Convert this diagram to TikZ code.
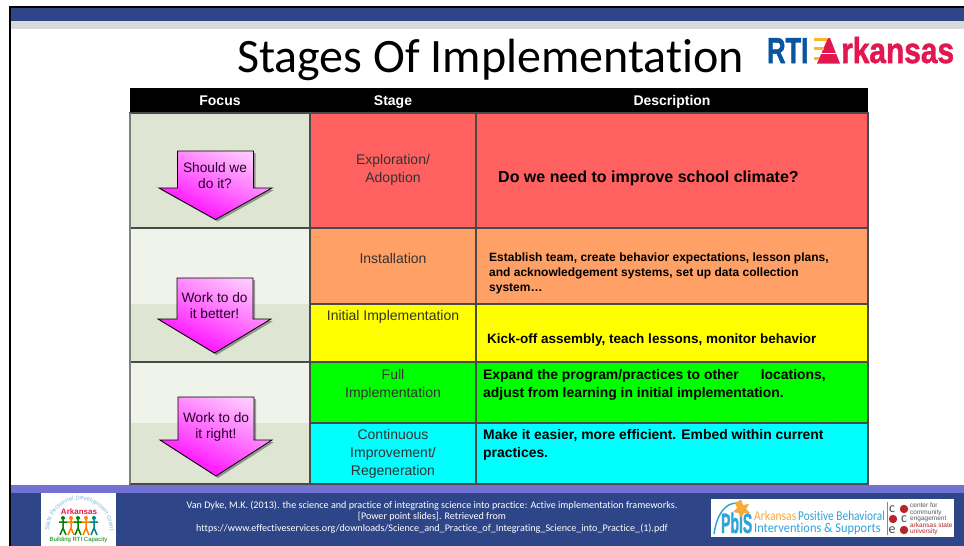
\documentclass[tikz,border=0pt]{standalone}
\usepackage{fontspec}
\usetikzlibrary{shadows,calc,decorations.text}
\setmainfont{Liberation Sans}
\newfontfamily\calib[Ligatures=NoCommon]{Carlito}
\newfontfamily\heavy[BoldFeatures={FakeBold=1.5}]{Liberation Sans}
\definecolor{navy}{HTML}{2E4588}
\definecolor{bandgray}{HTML}{D9D9D9}
\definecolor{purp}{HTML}{7272D2}
\definecolor{focA}{HTML}{DEE6D3}
\definecolor{focB}{HTML}{F0F3EA}
\definecolor{cellline}{HTML}{4A4A4A}
\definecolor{rtiblue}{HTML}{0A559F}
\definecolor{rtired}{HTML}{E3174F}
\definecolor{rtigold}{HTML}{F7B731}
\definecolor{pbblue}{HTML}{2FA4D8}
\definecolor{pborange}{HTML}{F7A93B}
\definecolor{ceered}{HTML}{B3262A}
\definecolor{cred}{HTML}{FF6060}
\definecolor{corange}{HTML}{FFA066}
\definecolor{cgreen}{HTML}{00FF00}
\definecolor{ccyan}{HTML}{00FFFF}
\definecolor{cyellow}{HTML}{FFFF00}
\definecolor{mag}{HTML}{FF00FF}
\definecolor{grantblue}{HTML}{7FB8DC}
\tikzset{
 x=1pt,y=-1pt,
 cellbox/.style={draw=cellline,line width=1.2pt},
 hdr/.style={text=white,anchor=base,font=\fontsize{14}{16}\selectfont\bfseries},
 stagetxt/.style={text=black!80,font=\fontsize{14}{18}\selectfont,align=center},
 desc/.style={text=black,align=left,anchor=west,inner sep=0pt},
 foottxt/.style={text=white,font=\calib\fontsize{10.1}{11.7}\selectfont,align=center},
 arrowbox/.style={draw=black,line width=0.8pt,
   drop shadow={shadow xshift=2pt,shadow yshift=-2pt,fill=black,opacity=0.35},
   top color=mag!22,bottom color=mag,middle color=mag!60,shading angle=-25},
 arrowtxt/.style={text=black!85!mag,font=\fontsize{13.7}{16}\selectfont,align=center},
 logotxt/.style={anchor=base west,inner sep=0pt},
 pbtxt/.style={logotxt,font=\calib\fontsize{13.5}{15}\selectfont},
 ceetxt/.style={font=\fontsize{6.5}{6.4}\selectfont,align=left,anchor=west,inner sep=0pt},
}
\newcommand{\focusarrow}[7]{% tip y, bodyL, bodyR, top, shoulder, headL, headR
  \path[arrowbox]
   (#2,#4) -- (#3,#4) -- (#3,#5) -- (#7,#5) -- ({(#6+#7)/2},#1) -- (#6,#5) -- (#2,#5) -- cycle;
}
\begin{document}
\begin{tikzpicture}
\useasboundingbox (0,0) rectangle (964,546);
\fill[white] (0,0) rectangle (964,546);
% slide frame and bands
\fill[navy] (10,8) rectangle (964,21);
\fill[bandgray] (10,21) rectangle (964,29);
\fill[purp] (10,485) rectangle (964,493);
\fill[navy] (10,493) rectangle (964,546);
\fill[black] (9,6) rectangle (964,8);
\fill[black] (9,6) rectangle (11,546);
% title
\node[text=black,font=\calib\fontsize{48}{54}\selectfont,anchor=base] (title) at (490.5,72) {Stages Of Implementation};
% RTI logo
\node[logotxt,text=rtiblue,font=\heavy\fontsize{36}{38}\selectfont\bfseries,xscale=0.71] (rti) at (767,63) {RTI};
\fill[rtired] (817,63.5) -- (828,38) -- (830,38) -- (840,63.5) -- cycle;
\fill[white] (820,52.5) rectangle (838,54);
\fill[rtigold] (814,37.5) rectangle (827,40.5);
\fill[rtigold] (814,47) rectangle (824,50);
\fill[rtigold] (814,57) rectangle (819,60);
\node[logotxt,text=rtired,font=\heavy\fontsize{36}{38}\selectfont\bfseries,xscale=0.83] (ark) at (841,63) {rkansas};
% table
\fill[black] (130,88) rectangle (868,113);
\fill[focA] (130,113) rectangle (310,228);
\fill[focB] (130,228) rectangle (310,304);
\fill[focA] (130,304) rectangle (310,362);
\fill[focB] (130,362) rectangle (310,423);
\fill[focA] (130,423) rectangle (310,484);
\draw[cellbox] (130,113) rectangle (310,228);
\draw[cellbox] (130,228) rectangle (310,362);
\draw[cellbox] (130,362) rectangle (310,484);
\draw[gray,line width=1.2pt] (130,113) -- (130,484);
\draw[cellbox,fill=cred] (310,113) rectangle (476,228);
\draw[cellbox,fill=corange] (310,228) rectangle (476,304);
\draw[cellbox,fill=cyellow] (310,304) rectangle (476,362);
\draw[cellbox,fill=cgreen] (310,362) rectangle (476,423);
\draw[cellbox,fill=ccyan] (310,423) rectangle (476,484);
\draw[cellbox,fill=cred] (476,113) rectangle (868,228);
\draw[cellbox,fill=corange] (476,228) rectangle (868,304);
\draw[cellbox,fill=cyellow] (476,304) rectangle (868,362);
\draw[cellbox,fill=cgreen] (476,362) rectangle (868,423);
\draw[cellbox,fill=ccyan] (476,423) rectangle (868,484);
% header labels
\node[hdr] (h1) at (220,105) {Focus};
\node[hdr] (h2) at (393,105) {Stage};
\node[hdr] (h3) at (672,105) {Description};
% arrows
\focusarrow{219.5}{177.5}{253.5}{151}{188}{159}{272}
\focusarrow{353}{177}{253}{278}{319}{158}{271}
\focusarrow{476}{178}{254}{397}{440}{160}{272}
\node[arrowtxt] (a1) at (215,176) {Should we\\do it?};
\node[arrowtxt] (a2) at (214.5,305.5) {Work to do\\it better!};
\node[arrowtxt] (a3) at (216,426.5) {Work to do\\it right!};
% stages
\node[stagetxt] (s1) at (393,170) {Exploration/\\Adoption};
\node[stagetxt] (s2) at (393,258) {Installation};
\node[stagetxt] (s3) at (393,317) {Initial Implementation};
\node[stagetxt] (s4) at (393,385) {Full\\Implementation};
\node[stagetxt] (s5) at (393,454) {Continuous\\Improvement/\\Regeneration};
% descriptions
\node[desc,font=\fontsize{16}{18}\selectfont\bfseries] (d1) at (498,178) {Do we need to improve school climate?};
\node[desc,font=\fontsize{12}{15}\selectfont\bfseries] (d2) at (489,273.5) {Establish team, create behavior expectations, lesson plans,\\and acknowledgement systems, set up data collection\\system…};
\node[desc,font=\fontsize{13.5}{16}\selectfont\bfseries] (d3) at (487,340) {Kick-off assembly, teach lessons, monitor behavior};
\node[desc,font=\fontsize{13.9}{18}\selectfont\bfseries] (d4) at (483,384.5) {Expand the program/practices to other\hspace{22pt}locations,\\adjust from learning in initial implementation.};
\node[desc,font=\fontsize{13.9}{18}\selectfont\bfseries] (d5) at (483,444.5) {Make it easier, more efficient. Embed within current\\practices.};
% footer
\node[foottxt] (cite) at (432,517) {Van Dyke, M.K. (2013). the science and practice of integrating science into practice:  Active implementation frameworks.\\{}[Power point slides]. Retrieved from\\https://www.effectiveservices.org/downloads/Science\_and\_Practice\_of\_Integrating\_Science\_into\_Practice\_(1).pdf};
% left logo
\fill[white] (41,493) rectangle (116,546);
\node[text=rtired,font=\fontsize{8}{9}\selectfont\bfseries] (lg1) at (79,511.5) {Arkansas};
\node[text=green!50!black,font=\fontsize{6}{7}\selectfont] (lg2) at (78.5,539.5) {Building RTI Capacity};
\foreach \px/\pc in {63/green!50!black,71/orange,78/green!50!black,86/orange,94/teal}{
  \fill[\pc] (\px,518) circle (2);
  \draw[\pc,line width=1.5pt] (\px,520) -- (\px,528) (\px-4,522) -- (\px+4,522) (\px,528) -- (\px-3,535) (\px,528) -- (\px+3,535);
}
\path[decorate,decoration={text along path,text align=center,
   text={|\fontsize{6}{7}\selectfont\color{grantblue}|State Personnel Development Grant}}]
   (49,533) .. controls (49,489) and (110,489) .. (110,533);
% right logo
\fill[white] (711,499) rectangle (954,537);
\node[logotxt,text=pbblue,font=\heavy\fontsize{28}{30}\selectfont\bfseries,xscale=0.5] (pb) at (721,533) {PbIS};
\draw[pbblue,line width=1.5pt] (714,534) .. controls (717,514) and (725,503) .. (737,503);
\fill[pborange] (741,499.5) -- (743,505) -- (749,504) -- (746,509) -- (750,513) -- (744,513) -- (741,518) -- (739,513) -- (733,512) -- (737,508) -- (735,503) -- cycle;
\node[pbtxt,text=pborange,xscale=0.86] (p1) at (754,520) {Arkansas};
\node[pbtxt,text=pbblue,xscale=0.84] (p2) at (798,520) {Positive Behavioral};
\node[pbtxt,text=pbblue,xscale=0.92] (p3) at (754,532.5) {Interventions \& Supports};
\draw[pbblue] (887,502) -- (887,535);
\foreach \yy/\lt/\xa/\xb in {509/c/892/904,519/c/904/893,530/e/892/904}{
  \node[text=black!70,font=\calib\fontsize{14}{14}\selectfont,inner sep=0pt] at (\xa,\yy) {\lt};
  \fill[ceered] (\xb,\yy) circle (4.2);
}
\node[ceetxt,text=black!65] (c1) at (910,519) {center for\\community\\engagement\\\textcolor{ceered}{arkansas state}\\\textcolor{ceered}{university}};
\end{tikzpicture}
\end{document}
